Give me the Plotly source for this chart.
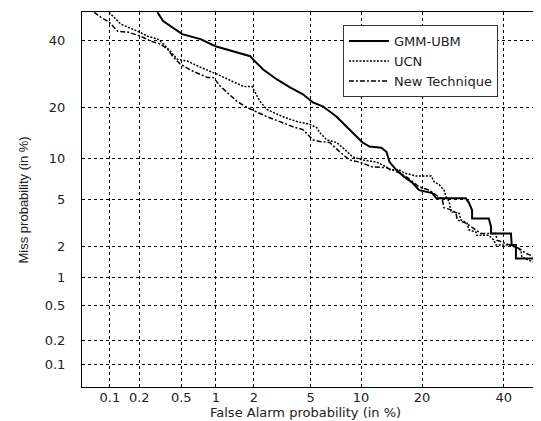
from statistics import NormalDist
import plotly.graph_objects as go

# DET curves, values in % (false alarm, miss)
gmm_fa = [0.30, 0.34, 0.51, 0.74, 0.99, 1.38, 1.88, 1.97, 2.35, 2.96, 3.65, 4.46, 5.17, 5.97,
          7.26, 8.30, 10.2, 11.1, 12.8, 13.6, 14.1, 15.2, 16.6, 18.1, 19.4, 22.1, 23.0, 29.9,
          30.7, 31.5, 31.5, 35.9, 36.5, 36.5, 42.0, 42.2, 43.4, 43.4, 49.9]
gmm_miss = [49.9, 46.8, 42.3, 40.6, 38.2, 36.5, 34.9, 33.9, 30.7, 27.7, 25.4, 23.5, 21.4, 20.4,
            17.9, 15.7, 12.6, 11.9, 11.7, 11.0, 9.4, 8.3, 7.4, 6.7, 5.9, 5.6, 5.1, 5.1,
            4.7, 4.1, 3.5, 3.5, 2.95, 2.6, 2.6, 2.04, 2.04, 1.53, 1.53]

ucn_fa = [0.098, 0.110, 0.130, 0.153, 0.193, 0.242, 0.302, 0.344, 0.399, 0.462, 0.569, 0.738,
          1.03, 1.38, 1.66, 1.94, 2.05, 2.23, 2.51, 3.26, 4.07, 4.95, 5.48, 5.72, 6.32, 7.26,
          7.87, 8.98, 10.2, 12.1, 13.6, 14.1, 15.7, 16.6, 18.8, 21.9, 22.5, 23.6, 24.7, 25.2,
          25.9, 26.3, 28.2, 28.7, 30.2, 30.7, 32.5, 32.7, 35.9, 37.3, 37.8, 42.0, 44.8, 45.1,
          49.3, 49.3]
ucn_miss = [49.9, 48.2, 45.8, 44.7, 43.3, 41.6, 40.6, 38.9, 36.5, 33.9, 33.3, 31.4,
            29.2, 27.1, 25.7, 25.7, 24.0, 21.6, 19.6, 17.9, 16.8, 16.2, 15.5, 14.5, 13.1, 12.6,
            11.7, 10.2, 9.7, 9.4, 8.7, 8.3, 8.3, 7.9, 7.5, 7.5, 6.8, 6.5, 5.9, 5.2,
            4.8, 3.96, 3.9, 3.4, 3.2, 2.8, 2.67, 2.5, 2.5, 2.26, 2.04, 2.04, 1.83, 1.57,
            1.37, 1.09]

new_fa = [0.068, 0.080, 0.098, 0.121, 0.153, 0.207, 0.259, 0.322, 0.374, 0.424, 0.492, 0.642,
          0.847, 0.951, 1.09, 1.24, 1.49, 1.78, 2.15, 2.51, 3.11, 3.82, 4.46, 5.17, 5.72, 6.59,
          7.56, 8.63, 9.82, 11.5, 13.6, 14.4, 15.7, 17.2, 18.5, 19.4, 21.5, 24.3, 24.7, 26.6,
          27.5, 27.8, 29.9, 32.5, 33.8, 37.8, 38.1, 44.2, 46.2, 49.9]
new_miss = [49.9, 48.2, 46.5, 43.3, 43.0, 41.6, 39.9, 38.9, 37.2, 34.6, 32.3, 30.1,
            28.3, 28.3, 25.7, 24.0, 21.6, 20.1, 18.9, 17.9, 16.8, 15.7, 15.1, 13.1, 12.8, 12.6,
            11.0, 9.7, 9.4, 8.7, 8.6, 8.3, 7.9, 7.3, 6.7, 6.25, 5.9, 5.0, 4.3, 4.1,
            3.9, 3.4, 3.2, 2.8, 2.6, 2.6, 2.26, 1.91, 1.71, 1.53]

x_ticks = [0.1, 0.2, 0.5, 1, 2, 5, 10, 20, 40]
y_ticks = [0.1, 0.2, 0.5, 1, 2, 5, 10, 20, 40]

nd = NormalDist()
WIDE = dict(family="DejaVu Sans", size=13, color="#222")
NARROW = dict(family="Arial", size=13, color="#222")


def probit(vals):
    return [nd.inv_cdf(v / 100.0) for v in vals]


def lbl(v):
    return str(int(v)) if v >= 1 else str(v)


fig = go.Figure()
fig.add_trace(go.Scatter(x=probit(gmm_fa), y=probit(gmm_miss), mode="lines", name="GMM-UBM",
                         line=dict(color="black", width=2, dash="solid")))
fig.add_trace(go.Scatter(x=probit(ucn_fa), y=probit(ucn_miss), mode="lines", name="UCN",
                         line=dict(color="black", width=1.5, dash="2px,1.5px")))
fig.add_trace(go.Scatter(x=probit(new_fa), y=probit(new_miss), mode="lines", name="New Technique",
                         line=dict(color="black", width=1.5, dash="5px,2px,2px,2px")))

lo, hi = nd.inv_cdf(0.0005), 0.0
axis = dict(range=[lo, hi], showline=True, linecolor="black", linewidth=1, mirror=True,
            showgrid=True, gridcolor="black", gridwidth=1, griddash="3px,3px",
            zeroline=False, ticks="", tickfont=WIDE, automargin=False)

fig.update_xaxes(**axis, tickvals=probit(x_ticks), ticktext=[lbl(v) for v in x_ticks],
                 ticklabelstandoff=-2)
fig.update_yaxes(**axis, tickvals=probit(y_ticks), ticktext=[lbl(v) for v in y_ticks],
                 ticklabelstandoff=13)

# page body adds an 8px offset, so the figure is 8px smaller than the window
fig.add_annotation(text="False Alarm probability (in %)", xref="paper", yref="paper",
                   x=0.49, y=-0.069, xanchor="center", yanchor="middle",
                   showarrow=False, font=WIDE)
fig.add_annotation(text="Miss probability (in %)", xref="paper", yref="paper",
                   x=-0.127, y=0.5, xanchor="center", yanchor="middle", textangle=-90,
                   showarrow=False, font=NARROW)

fig.update_layout(
    width=533, height=413,
    margin=dict(l=74, r=2, t=4, b=34),
    paper_bgcolor="white", plot_bgcolor="white",
    showlegend=True,
    legend=dict(x=0.571, y=0.965, xanchor="left", yanchor="top",
                bgcolor="white", bordercolor="#333", borderwidth=1,
                font=WIDE, tracegroupgap=0, itemwidth=40),
)

fig.write_html("out.html")
